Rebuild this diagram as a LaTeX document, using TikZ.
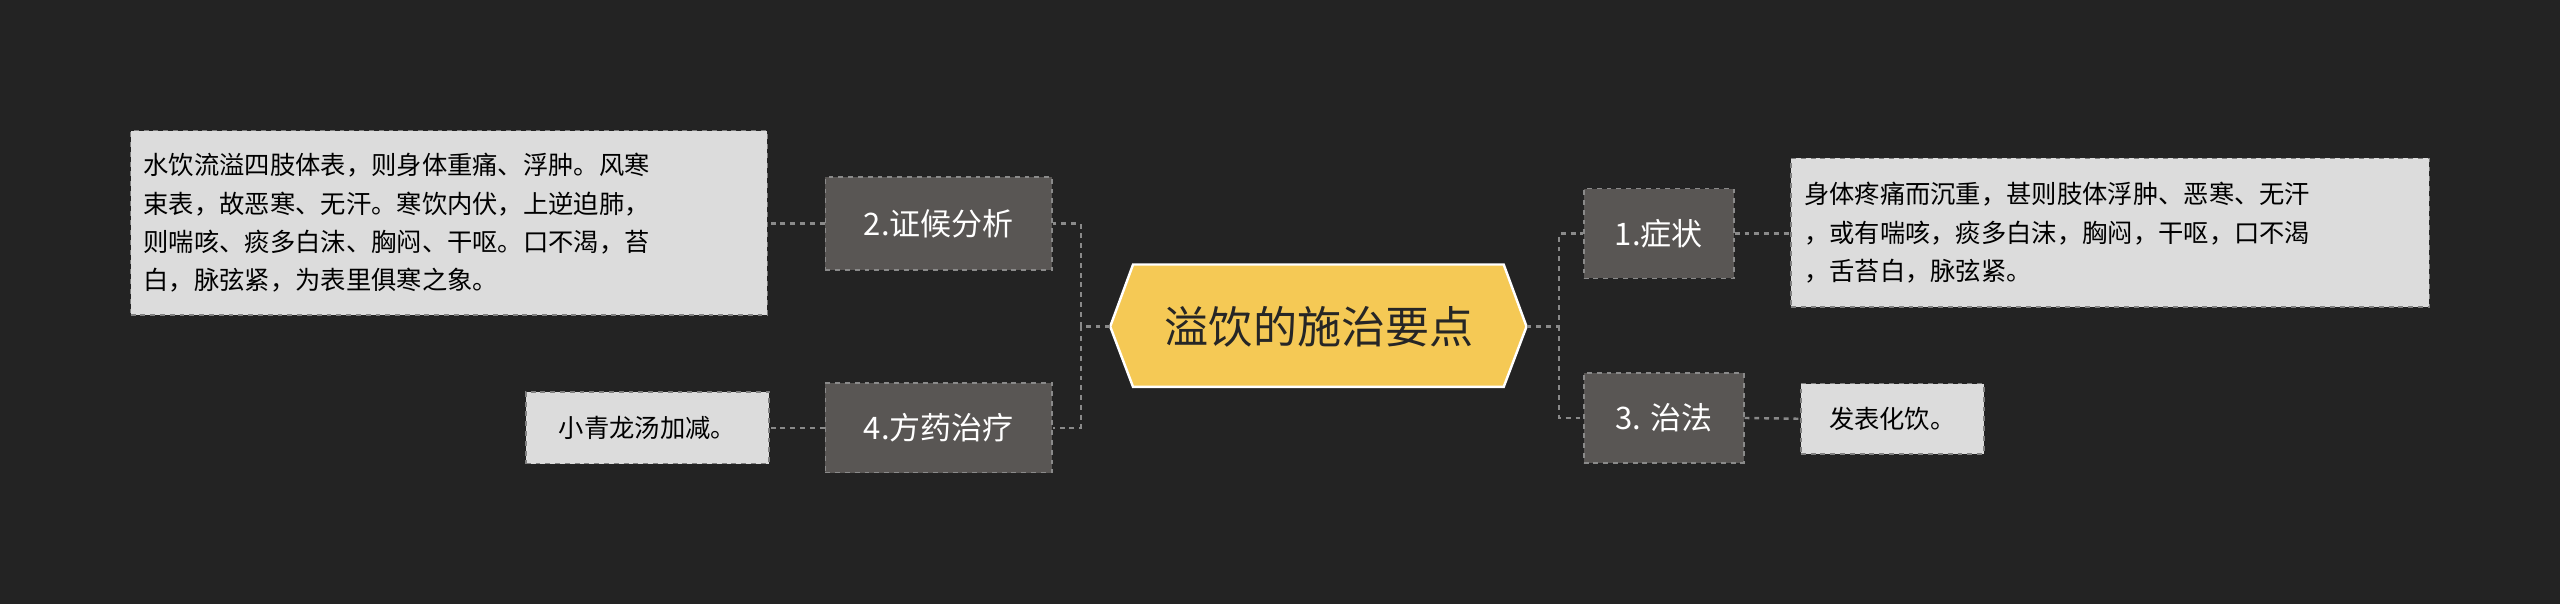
\documentclass[tikz,border=0pt]{standalone}
\usepackage{fontspec}
\setmainfont{Noto Sans CJK SC}
\usetikzlibrary{shapes.geometric}
\definecolor{bg}{HTML}{232323}
\definecolor{cyel}{HTML}{F5C955}
\definecolor{mid}{HTML}{595654}
\definecolor{leaf}{HTML}{DCDCDC}
\definecolor{lnk}{HTML}{8A8A8A}
\begin{document}
\begin{tikzpicture}[x=1pt,y=-1pt,
  mainbox/.style={fill=mid,draw=lnk,dashed,line width=1pt,text=white,font=\fontsize{19}{22}\selectfont,inner sep=0pt},
  leafbox/.style={fill=leaf,draw=gray,dashed,line width=1pt,text=black,font=\fontsize{15.5}{23.5}\selectfont,inner sep=0pt,align=left},
  link/.style={draw=lnk,dashed,line width=1.5pt}]
\fill[bg] (0,0) rectangle (1568,370);
\useasboundingbox (0,0) rectangle (1568,370);
% center
\node[draw=white,fill=cyel,line width=1.5pt,regular polygon,regular polygon sides=6,shape border rotate=90,minimum size=10pt,inner sep=0pt,opacity=0] (dummy) at (808,200) {};
\coordinate (cl) at (680,200);
\coordinate (cr) at (935,200);
\filldraw[draw=white,fill=cyel,line width=1.5pt] (680,200) -- (694,162) -- (921,162) -- (935,200) -- (921,237) -- (694,237) -- cycle;
\node[font=\fontsize{27}{30}\selectfont,text=black!85] (c) at (808,200) {溢饮的施治要点};
% main boxes
\node[mainbox,minimum width=92pt,minimum height=55pt] (b1) at (1016,143) {1.症状};
\node[mainbox,minimum width=98pt,minimum height=55pt] (b3) at (1019,256) {3. 治法};
\node[mainbox,minimum width=139pt,minimum height=57pt] (b2) at (575,137) {2.证候分析};
\node[mainbox,minimum width=139pt,minimum height=55pt] (b4) at (575,262) {4.方药治疗};
% leaves
\node[leafbox,minimum width=391pt,minimum height=91pt,text width=375pt] (l1) at (1292.5,142.5) {身体疼痛而沉重，甚则肢体浮肿、恶寒、无汗\\，或有喘咳，痰多白沫，胸闷，干呕，口不渴\\，舌苔白，脉弦紧。};
\node[leafbox,minimum width=112pt,minimum height=43pt,align=center] (l3) at (1159,256.5) {发表化饮。};
\node[leafbox,minimum width=390pt,minimum height=113pt,text width=374pt] (l2) at (275,136.5) {水饮流溢四肢体表，则身体重痛、浮肿。风寒\\束表，故恶寒、无汗。寒饮内伏，上逆迫肺，\\则喘咳、痰多白沫、胸闷、干呕。口不渴，苔\\白，脉弦紧，为表里俱寒之象。};
\node[leafbox,minimum width=149pt,minimum height=44pt,align=center] (l4) at (396.5,262) {小青龙汤加减。};
% links
\draw[link] (cl) -- (662,200) |- (b2.east);
\draw[link] (662,200) |- (b4.east);
\draw[link] (cr) -- (955,200) |- (b1.west);
\draw[link] (955,200) |- (b3.west);
\draw[link] (b1.east) -- (l1.west |- b1.east);
\draw[link] (b3.east) -- (l3.west);
\draw[link] (b2.west) -- (l2.east |- b2.west);
\draw[link] (b4.west) -- (l4.east);
\end{tikzpicture}
\end{document}
